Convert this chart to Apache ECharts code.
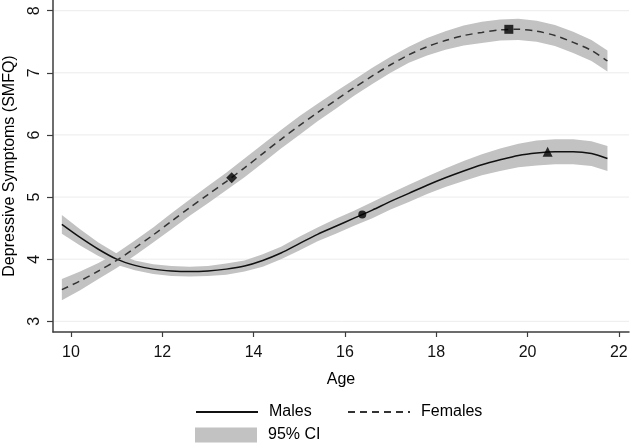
<!DOCTYPE html>
<html>
<head>
<meta charset="utf-8">
<script src="https://cdn.jsdelivr.net/npm/echarts@6/dist/echarts.min.js"></script>
<style>html,body{margin:0;padding:0;background:#fff;}#chart{width:630px;height:443px;}</style>
</head>
<body>
<div id="chart"></div>
<script>
const ages = [9.8,10.2,10.6,11.0,11.4,11.8,12.2,12.6,13.0,13.4,13.8,14.2,14.6,15.0,15.4,15.8,16.2,16.6,17.0,17.4,17.8,18.2,18.6,19.0,19.4,19.8,20.2,20.6,21.0,21.4,21.75];
const malesMean  = [4.56,4.35,4.16,4.00,3.90,3.84,3.81,3.80,3.81,3.84,3.89,3.98,4.10,4.25,4.40,4.53,4.66,4.79,4.93,5.06,5.19,5.31,5.42,5.52,5.60,5.67,5.71,5.73,5.73,5.70,5.62];
const malesLower = [4.41,4.22,4.05,3.91,3.82,3.76,3.73,3.72,3.73,3.75,3.80,3.88,4.00,4.14,4.29,4.41,4.54,4.66,4.80,4.92,5.05,5.16,5.26,5.35,5.42,5.48,5.51,5.53,5.53,5.50,5.42];
const malesUpper = [4.71,4.48,4.27,4.09,3.98,3.92,3.89,3.88,3.89,3.93,3.98,4.08,4.20,4.36,4.51,4.65,4.78,4.92,5.06,5.20,5.33,5.46,5.58,5.69,5.78,5.86,5.91,5.93,5.93,5.90,5.82];
const femalesMean  = [3.51,3.65,3.81,3.98,4.18,4.39,4.61,4.83,5.04,5.25,5.47,5.70,5.93,6.15,6.36,6.56,6.76,6.95,7.13,7.29,7.42,7.52,7.60,7.65,7.69,7.70,7.67,7.60,7.49,7.36,7.19];
const femalesLower = [3.34,3.50,3.68,3.86,4.06,4.27,4.48,4.70,4.90,5.11,5.32,5.55,5.78,6.00,6.22,6.42,6.63,6.82,7.00,7.16,7.28,7.37,7.44,7.48,7.52,7.53,7.50,7.43,7.32,7.19,7.02];
const femalesUpper = [3.68,3.80,3.94,4.10,4.30,4.51,4.74,4.96,5.18,5.39,5.62,5.85,6.08,6.30,6.50,6.70,6.89,7.08,7.26,7.42,7.56,7.67,7.76,7.82,7.86,7.87,7.84,7.77,7.66,7.53,7.36];
const maleMarkers = [[16.38,4.72,'circle'],[20.44,5.73,'triangle']];
const femaleMarkers = [[13.52,5.31,'diamond'],[19.59,7.70,'rect']];
const xTicks = [10,12,14,16,18,20,22];
const yTicks = [3,4,5,6,7,8];

const X_MIN = 9.606, X_MAX = 22.222, Y_MIN = 2.828, Y_MAX = 8.172;
const BAND = '#c2c2c2';
const FONT = 'Liberation Sans, Arial, sans-serif';
const MARKER_SIZE = {circle: 8, triangle: 10, diamond: 11, rect: 9};

function bandSeries(lower, upper) {
  return {
    type: 'custom', name: '95% CI', z: 1,
    itemStyle: {color: BAND},
    data: [0],
    renderItem: function (params, api) {
      const pts = [];
      for (let i = 0; i < ages.length; i++) pts.push(api.coord([ages[i], upper[i]]));
      for (let i = ages.length - 1; i >= 0; i--) pts.push(api.coord([ages[i], lower[i]]));
      return {type: 'polygon', shape: {points: pts}, style: {fill: BAND, stroke: null}};
    }
  };
}

const legendText = {fontFamily: FONT, fontSize: 16, color: '#000', padding: [0,0,0,6]};
const hiddenSymbol = {color: 'transparent', borderWidth: 0, opacity: 0};

const chart = echarts.init(document.getElementById('chart'), null, {renderer: 'canvas'});
chart.setOption({
  animation: false,
  backgroundColor: '#fff',
  grid: {left: 53, right: 1, top: 0, bottom: 111, containLabel: false, outerBoundsMode: 'none'},
  xAxis: {
    type: 'value', min: X_MIN, max: X_MAX,
    name: 'Age', nameLocation: 'middle', nameGap: 40,
    nameTextStyle: {fontFamily: FONT, fontSize: 16, color: '#000'},
    axisLine: {show: true, onZero: false, lineStyle: {color: '#3c3c3c', width: 1.5}},
    axisTick: {show: true, length: 5, customValues: xTicks, lineStyle: {color: '#3c3c3c', width: 1.2}},
    axisLabel: {customValues: xTicks, margin: 13, fontFamily: FONT, fontSize: 16, color: '#111'},
    splitLine: {show: false}
  },
  yAxis: {
    type: 'value', min: Y_MIN, max: Y_MAX,
    name: 'Depressive Symptoms (SMFQ)', nameLocation: 'middle', nameGap: 35, nameRotate: 90,
    nameTextStyle: {fontFamily: FONT, fontSize: 16, color: '#000'},
    axisLine: {show: true, onZero: false, lineStyle: {color: '#3c3c3c', width: 1.5}},
    axisTick: {show: true, length: 6, customValues: yTicks, lineStyle: {color: '#3c3c3c', width: 1.2}},
    axisLabel: {customValues: yTicks, rotate: 90, margin: 10, fontFamily: FONT, fontSize: 16, color: '#111'},
    splitLine: {show: false}
  },
  legend: [
    {left: 195, top: 404, padding: 0, itemWidth: 62, itemHeight: 15,
     data: [{name: 'Males', itemStyle: hiddenSymbol}], textStyle: legendText},
    {left: 347, top: 404, padding: 0, itemWidth: 62, itemHeight: 15,
     data: [{name: 'Females', itemStyle: hiddenSymbol}], textStyle: legendText},
    {left: 195, top: 427, padding: 0, itemWidth: 62, itemHeight: 15,
     data: [{name: '95% CI', icon: 'rect', itemStyle: {color: BAND}}], textStyle: legendText}
  ],
  series: [
    {
      type: 'custom', name: 'grid', z: 0, silent: true,
      data: yTicks,
      renderItem: function (params, api) {
        const v = api.value(0);
        const a = api.coord([X_MIN, v]), b = api.coord([X_MAX, v]);
        return {type: 'line', shape: {x1: a[0] + 1, y1: a[1], x2: b[0], y2: b[1]}, style: {stroke: '#ececec', lineWidth: 1}};
      }
    },
    bandSeries(malesLower, malesUpper),
    bandSeries(femalesLower, femalesUpper),
    {
      type: 'line', name: 'Males', z: 3, smooth: 0.3, symbol: 'none',
      data: ages.map((a, i) => [a, malesMean[i]]),
      lineStyle: {color: '#111', width: 1.5, type: 'solid'},
      itemStyle: {color: '#111'}
    },
    {
      type: 'line', name: 'Females', z: 3, smooth: 0.3, symbol: 'none',
      data: ages.map((a, i) => [a, femalesMean[i]]),
      lineStyle: {color: '#333', width: 1.5, type: [7, 5]},
      itemStyle: {color: '#333'}
    },
    {
      type: 'scatter', name: 'markers', z: 4, silent: true,
      data: maleMarkers.concat(femaleMarkers).map(m => ({value: [m[0], m[1]], symbol: m[2], symbolSize: MARKER_SIZE[m[2]]})),
      itemStyle: {color: '#000'}
    }
  ]
});
</script>
</body>
</html>
